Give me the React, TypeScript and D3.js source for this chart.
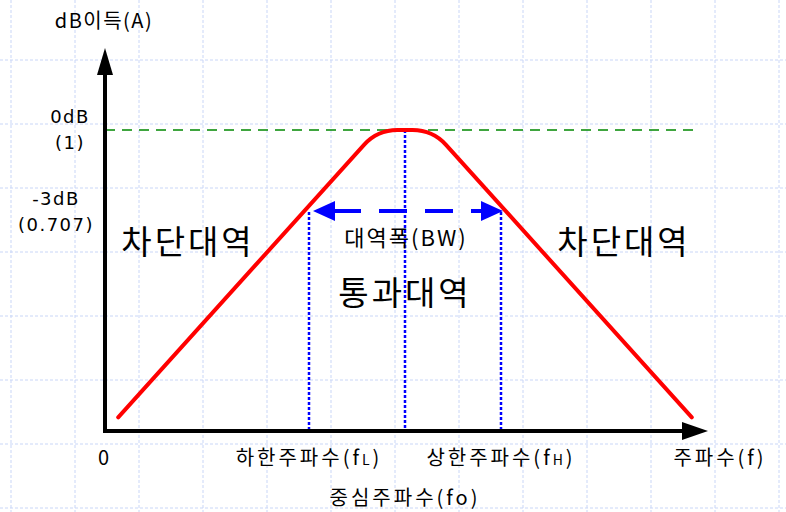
import { useEffect, useRef } from "react";
import * as d3 from "d3";

// band-pass response, drawn as a schematic (frequency in arbitrary units, gain in dB)
const curveFreq = [2.2, 45.4, 54.6, 97.8];
const curveGain = [-10.5, 0, 0, -10.5];

const fL = 34;
const fo = 50;
const fH = 66;
const fLabel = 102.5;

const gainTicks = [0, -3];
const gainTickLines = [
  ["0dB", "(1)"],
  ["-3dB", "(0.707)"],
];

const xTickValues = [0, fL, fH, fLabel];
const xTickNames = ["0", "하한주파수(f", "상한주파수(f", "주파수(f)"];
const xTickSubs = ["", "L", "H", ""];

const regionLabels = ["차단대역", "대역폭(BW)", "통과대역", "차단대역"];

const W = 786;
const H = 512;
const FONT = "'Noto Sans CJK KR', 'Noto Sans', sans-serif";
const LATIN = "'DejaVu Sans', sans-serif";

const App = () => {
  const svgRef = useRef(null);

  useEffect(() => {
    const svg = d3.select(svgRef.current);
    svg.selectAll("*").remove();

    const xScale = d3.scaleLinear().domain([0, 100]).range([105, 705]);
    const yScale = d3.scaleLinear().domain([-11, 0]).range([431, 130]);

    // background grid
    const grid = svg.append("g");
    d3.range(11, W, 64).forEach((x) => {
      grid
        .append("line")
        .attr("x1", x)
        .attr("x2", x)
        .attr("y1", 0)
        .attr("y2", H)
        .attr("stroke", "#c9d6f7")
        .attr("stroke-dasharray", "3,2");
    });
    d3.range(-4, H, 64).forEach((y) => {
      grid
        .append("line")
        .attr("x1", 0)
        .attr("x2", W)
        .attr("y1", y)
        .attr("y2", y)
        .attr("stroke", "#c9d6f7")
        .attr("stroke-dasharray", "3,2");
    });

    const x0 = xScale(0);
    const y0 = yScale(-11);

    // 0dB reference line
    svg
      .append("line")
      .attr("x1", x0)
      .attr("x2", 700)
      .attr("y1", yScale(0))
      .attr("y2", yScale(0))
      .attr("stroke", "#008800")
      .attr("stroke-width", 1.5)
      .attr("stroke-dasharray", "10,7");

    // dotted verticals at fL, fo, fH
    const dotted = [
      [fL, -3],
      [fo, 0],
      [fH, -3],
    ];
    dotted.forEach(([f, g]) => {
      svg
        .append("line")
        .attr("x1", xScale(f))
        .attr("x2", xScale(f))
        .attr("y1", yScale(g))
        .attr("y2", y0)
        .attr("stroke", "#0000ff")
        .attr("stroke-width", 2.5)
        .attr("stroke-dasharray", "3,2");
    });

    // response curve with rounded top corners
    const pts = curveFreq.map((f, i) => [xScale(f), yScale(curveGain[i])]);
    const r = 20;
    const p = d3.path();
    p.moveTo(pts[0][0], pts[0][1]);
    for (let i = 1; i < pts.length - 1; i++) {
      const [px, py] = pts[i];
      const [ax, ay] = pts[i - 1];
      const [bx, by] = pts[i + 1];
      const la = Math.hypot(ax - px, ay - py);
      const lb = Math.hypot(bx - px, by - py);
      const ca = Math.min(r, la / 2);
      const cb = Math.min(r, lb / 2);
      p.lineTo(px + ((ax - px) * ca) / la, py + ((ay - py) * ca) / la);
      p.quadraticCurveTo(px, py, px + ((bx - px) * cb) / lb, py + ((by - py) * cb) / lb);
    }
    const last = pts[pts.length - 1];
    p.lineTo(last[0], last[1]);
    svg
      .append("path")
      .attr("d", p.toString())
      .attr("fill", "none")
      .attr("stroke", "#ff0000")
      .attr("stroke-width", 4)
      .attr("stroke-linecap", "round")
      .attr("stroke-linejoin", "round");

    // bandwidth arrow
    const yb = yScale(-3) - 1;
    const xl = xScale(fL) + 4;
    const xr = xScale(fH) + 2;
    svg
      .append("line")
      .attr("x1", xl + 20)
      .attr("x2", xr - 22)
      .attr("y1", yb)
      .attr("y2", yb)
      .attr("stroke", "#0000ff")
      .attr("stroke-width", 4)
      .attr("stroke-dasharray", "28,18");
    svg
      .append("path")
      .attr("d", `M${xl},${yb} L${xl + 22},${yb - 10} L${xl + 22},${yb + 10} Z`)
      .attr("fill", "#0000ff");
    svg
      .append("path")
      .attr("d", `M${xr},${yb} L${xr - 22},${yb - 10} L${xr - 22},${yb + 10} Z`)
      .attr("fill", "#0000ff");

    // axes
    svg
      .append("line")
      .attr("x1", x0)
      .attr("x2", x0)
      .attr("y1", y0 + 2)
      .attr("y2", 74)
      .attr("stroke", "#000")
      .attr("stroke-width", 4);
    svg
      .append("path")
      .attr("d", `M${x0 - 8},75 L${x0 + 8},75 L${x0},48 Z`)
      .attr("fill", "#000");
    svg
      .append("line")
      .attr("x1", x0 - 2)
      .attr("x2", 683)
      .attr("y1", y0)
      .attr("y2", y0)
      .attr("stroke", "#000")
      .attr("stroke-width", 4);
    svg
      .append("path")
      .attr("d", `M682,${y0 - 9} L682,${y0 + 9} L708,${y0} Z`)
      .attr("fill", "#000");

    const text = (x, y, size, anchor, spacing = 0, family = FONT) =>
      svg
        .append("text")
        .attr("x", x)
        .attr("y", y)
        .attr("font-family", family)
        .attr("font-size", size)
        .attr("text-anchor", anchor)
        .attr("letter-spacing", spacing)
        .attr("fill", "#000");

    // y axis title and tick labels
    text(104, 28, 20, "middle", 1.5).text("dB이득(A)");
    const tickX = [70, 56];
    gainTicks.forEach((g, i) => {
      const y = yScale(g);
      text(tickX[i], y - 7, 18, "middle", 1.5, LATIN).text(gainTickLines[i][0]);
      text(tickX[i], y + 19, 18, "middle", 1.5, LATIN).text(gainTickLines[i][1]);
    });

    // x tick labels
    xTickValues.forEach((v, i) => {
      const t = text(xScale(v), 465, 20, "middle", 3);
      t.append("tspan").text(xTickNames[i]);
      if (xTickSubs[i]) {
        t.append("tspan").attr("font-size", 14).text(xTickSubs[i]);
        t.append("tspan").text(")");
      }
    });
    text(xScale(fo), 505, 20, "middle", 3).text("중심주파수(fo)");

    // region labels
    text(188, 254, 33, "middle", 3).text(regionLabels[0]);
    text(xScale(fo) + 1, 246, 22, "middle", 2).text(regionLabels[1]);
    text(xScale(fo), 305, 33, "middle", 3).text(regionLabels[2]);
    text(624, 254, 33, "middle", 3).text(regionLabels[3]);
  }, []);

  return (
    <svg
      ref={svgRef}
      width={W}
      height={H}
      style={{ position: "absolute", left: 0, top: 0, background: "#fff" }}
    ></svg>
  );
};

export default App;
